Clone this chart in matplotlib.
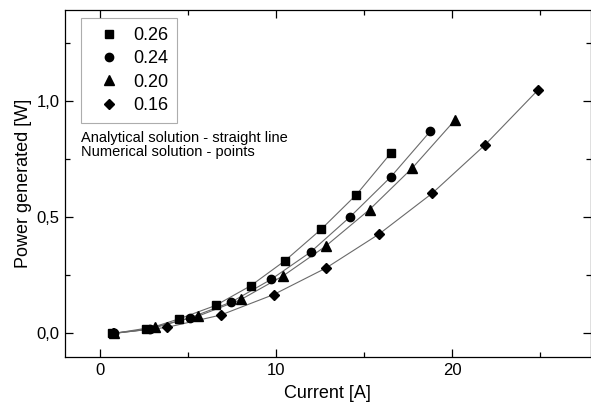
import matplotlib.pyplot as plt
from matplotlib.ticker import MultipleLocator, FuncFormatter

plt.rcParams['font.family'] = ['Liberation Sans', 'DejaVu Sans']

# data: current [A] vs power generated [W]
labels = ['0.26', '0.24', '0.20', '0.16']
markers = ['s', 'o', '^', 'D']
msizes = [5.5, 6, 6.5, 5]

cur_026 = [0.65, 2.6, 4.5, 6.55, 8.55, 10.5, 12.55, 14.55, 16.5]
pow_026 = [0.0, 0.017, 0.063, 0.12, 0.205, 0.313, 0.448, 0.597, 0.775]

cur_024 = [0.8, 2.8, 5.1, 7.45, 9.7, 11.95, 14.2, 16.5, 18.75]
pow_024 = [0.0, 0.018, 0.067, 0.135, 0.232, 0.35, 0.502, 0.673, 0.87]

cur_020 = [0.8, 3.1, 5.55, 8.0, 10.4, 12.8, 15.3, 17.73, 20.15]
pow_020 = [0.0, 0.028, 0.074, 0.146, 0.248, 0.375, 0.533, 0.712, 0.918]

cur_016 = [0.75, 3.8, 6.85, 9.85, 12.82, 15.83, 18.86, 21.84, 24.86]
pow_016 = [0.0, 0.026, 0.079, 0.167, 0.281, 0.427, 0.603, 0.81, 1.047]

currents = [cur_026, cur_024, cur_020, cur_016]
powers = [pow_026, pow_024, pow_020, pow_016]

fig = plt.figure(figsize=(5.91, 4.11), dpi=100)
ax = fig.add_axes([65 / 591, 1 - 357.3 / 411, 525.5 / 591, 347.3 / 411])

# thin grey lines = analytical, black markers = numerical
for x, y in zip(currents, powers):
    ax.plot(x, y, '-', color='#6a6a6a', lw=0.8, zorder=1)
for x, y, m, ms, lab in zip(currents, powers, markers, msizes, labels):
    ax.plot(x, y, linestyle='none', marker=m, ms=ms, color='black', label=lab, zorder=2)

ax.set_xlim(-2, 27.85)
ax.set_ylim(-0.103, 1.392)
ax.xaxis.set_major_locator(MultipleLocator(10))
ax.xaxis.set_minor_locator(MultipleLocator(5))
ax.yaxis.set_major_locator(MultipleLocator(0.5))
ax.yaxis.set_minor_locator(MultipleLocator(0.25))
ax.yaxis.set_major_formatter(FuncFormatter(lambda v, p: f'{v:.1f}'.replace('.', ',')))

ax.tick_params(which='both', direction='in', top=True, right=True, labelsize=12, width=0.9)
ax.tick_params(which='major', length=6, pad=4)
ax.tick_params(which='minor', length=3.5)
for s in ax.spines.values():
    s.set_linewidth(0.9)

ax.set_xlabel('Current [A]', fontsize=13, labelpad=5)
ax.set_ylabel('Power generated [W]', fontsize=13, labelpad=3)

leg = ax.legend(loc='upper left', bbox_to_anchor=(0.0304, 0.977), borderaxespad=0,
                fontsize=13, fancybox=False, frameon=True, handlelength=2.1,
                handletextpad=0.28, labelspacing=0.35, borderpad=0.5)
leg.get_frame().set_edgecolor('#999999')
leg.get_frame().set_linewidth(0.8)

ax.text(0.030, 0.652, 'Analytical solution - straight line\nNumerical solution - points',
        transform=ax.transAxes, fontsize=10.5, va='top', ha='left', linespacing=1.0)

fig.savefig('out.png', dpi=100)
